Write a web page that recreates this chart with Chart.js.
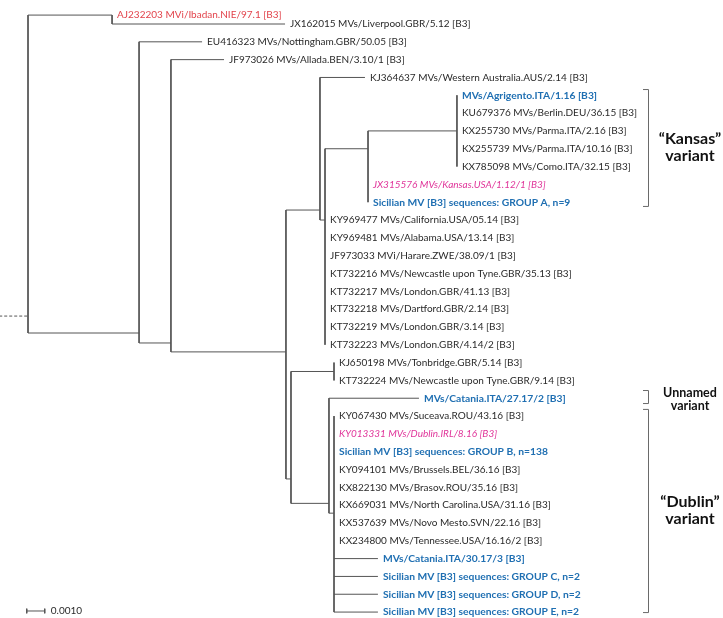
<!DOCTYPE html>
<html>
<head>
<meta charset="utf-8">
<script src="https://cdn.jsdelivr.net/npm/chart.js@4"></script>
<style>
  body { margin: 0; background: #fff; }
  #wrap { width: 723px; height: 618px; }
</style>
</head>
<body>
<div id="wrap"><canvas id="tree"></canvas></div>
<script>
// internal nodes : parent, distance from root (subst./site), row where the branch arrives
const nodeNames  = ['root', 'n1', 'n2', 'n3', 'n4', 'nA', 'nB', 'nC', 'nC2', 'nD', 'nE', 'nF', 'nG'];
const nodeParent = [null, 'root', 'root', 'n2', 'n3', 'n4', 'nA', 'nB', 'nC', 'n4', 'nD', 'nD', 'nF'];
const nodeDist   = [0, 0.00467, 0.00617, 0.00794, 0.01433, 0.01622, 0.01650, 0.01889, 0.02383, 0.01461, 0.01700, 0.01672, 0.01700];
const nodeRow    = [17.39, 0.5, 18.34, 18.9, 19.4, 11.44, 12, 8, 7, 26.53, 20.5, 27.9, 28.45];

// leaves (top to bottom)
const leafNames = [
  'AJ232203 MVi/Ibadan.NIE/97.1 [B3]',
  'JX162015 MVs/Liverpool.GBR/5.12 [B3]',
  'EU416323 MVs/Nottingham.GBR/50.05 [B3]',
  'JF973026 MVs/Allada.BEN/3.10/1 [B3]',
  'KJ364637 MVs/Western Australia.AUS/2.14 [B3]',
  'MVs/Agrigento.ITA/1.16 [B3]',
  'KU679376 MVs/Berlin.DEU/36.15 [B3]',
  'KX255730 MVs/Parma.ITA/2.16 [B3]',
  'KX255739 MVs/Parma.ITA/10.16 [B3]',
  'KX785098 MVs/Como.ITA/32.15 [B3]',
  'JX315576 MVs/Kansas.USA/1.12/1 [B3]',
  'Sicilian MV [B3] sequences: GROUP A, n=9',
  'KY969477 MVs/California.USA/05.14 [B3]',
  'KY969481 MVs/Alabama.USA/13.14 [B3]',
  'JF973033 MVi/Harare.ZWE/38.09/1 [B3]',
  'KT732216 MVs/Newcastle upon Tyne.GBR/35.13 [B3]',
  'KT732217 MVs/London.GBR/41.13 [B3]',
  'KT732218 MVs/Dartford.GBR/2.14 [B3]',
  'KT732219 MVs/London.GBR/3.14 [B3]',
  'KT732223 MVs/London.GBR/4.14/2 [B3]',
  'KJ650198 MVs/Tonbridge.GBR/5.14 [B3]',
  'KT732224 MVs/Newcastle upon Tyne.GBR/9.14 [B3]',
  'MVs/Catania.ITA/27.17/2 [B3]',
  'KY067430 MVs/Suceava.ROU/43.16 [B3]',
  'KY013331 MVs/Dublin.IRL/8.16 [B3]',
  'Sicilian MV [B3] sequences: GROUP B, n=138',
  'KY094101 MVs/Brussels.BEL/36.16 [B3]',
  'KX822130 MVs/Brasov.ROU/35.16 [B3]',
  'KX669031 MVs/North Carolina.USA/31.16 [B3]',
  'KX537639 MVs/Novo Mesto.SVN/22.16 [B3]',
  'KX234800 MVs/Tennessee.USA/16.16/2 [B3]',
  'MVs/Catania.ITA/30.17/3 [B3]',
  'Sicilian MV [B3] sequences: GROUP C, n=2',
  'Sicilian MV [B3] sequences: GROUP D, n=2',
  'Sicilian MV [B3] sequences: GROUP E, n=2'
];
const leafParent = ['n1', 'n1', 'n2', 'n3', 'nA', 'nC2', 'nC2', 'nC2', 'nC2', 'nC2', 'nC', 'nC',
  'nB', 'nB', 'nB', 'nB', 'nB', 'nB', 'nB', 'nB', 'nE', 'nE', 'nF',
  'nG', 'nG', 'nG', 'nG', 'nG', 'nG', 'nG', 'nG', 'nG', 'nG', 'nG', 'nG'];
const leafDist = [0.00467, 0.01428, 0.00967, 0.01089, 0.01872, 0.02383, 0.02383, 0.02383, 0.02383, 0.02383, 0.01889, 0.01889,
  0.01650, 0.01650, 0.01650, 0.01650, 0.01650, 0.01650, 0.01650, 0.01650, 0.01700, 0.01700, 0.02172,
  0.01700, 0.01700, 0.01700, 0.01700, 0.01700, 0.01700, 0.01700, 0.01700, 0.01944, 0.01944, 0.01944, 0.01944];
const leafRow = [0.5, 1, 2, 3, 4, 5, 6, 7, 8, 9, 10, 11, 12, 13, 14, 15, 16, 17, 18, 19, 20, 21, 22,
  23, 24, 25, 26, 27, 28, 29, 30, 31, 32, 33, 34];
// r = outgroup (red), b = Sicilian (blue bold), p = reference strain (pink italic)
const leafKind = ['r', '', '', '', '', 'b', '', '', '', '', 'p', 'b', '', '', '', '', '', '', '', '', '', '', 'b',
  '', 'p', 'b', '', '', '', '', '', 'b', 'b', 'b', 'b'];

// brackets on the right
const variantText = [['\u201CKansas\u201D', 'variant'], ['Unnamed', 'variant'], ['\u201CDublin\u201D', 'variant']];
const variantFrom = [4.65, 21.54, 22.6];
const variantTo   = [11.21, 22.27, 34.0];

const scaleBarLen = 0.0010;

// ---- build the branch segments ----
const lineCol = '#555555';
function distOf(n) { return nodeDist[nodeNames.indexOf(n)]; }

let datasets = [];
function seg(x1, y1, x2, y2, dash) {
  datasets.push({
    data: [{x: x1, y: y1}, {x: x2, y: y2}],
    showLine: true,
    borderColor: lineCol,
    borderWidth: 1,
    borderDash: dash || [],
    pointRadius: 0
  });
}

let childRows = {};
nodeNames.forEach(n => childRows[n] = []);

nodeNames.forEach((n, i) => {
  if (nodeParent[i] === null) return;
  childRows[nodeParent[i]].push(nodeRow[i]);
  seg(distOf(nodeParent[i]), nodeRow[i], nodeDist[i], nodeRow[i]);
});
leafNames.forEach((n, i) => {
  childRows[leafParent[i]].push(leafRow[i]);
  if (leafDist[i] > distOf(leafParent[i])) {
    seg(distOf(leafParent[i]), leafRow[i], leafDist[i], leafRow[i]);
  }
});
nodeNames.forEach((n, i) => {
  const r = childRows[n];
  seg(nodeDist[i], Math.min(...r), nodeDist[i], Math.max(...r));
});
// root stub
seg(-0.00160, nodeRow[0], 0, nodeRow[0], [3, 2]);
// scale bar
const sbX = -0.00007, sbRow = 33.94;
seg(sbX, sbRow, sbX + scaleBarLen, sbRow);
seg(sbX, sbRow - 0.13, sbX, sbRow + 0.13);
seg(sbX + scaleBarLen, sbRow - 0.13, sbX + scaleBarLen, sbRow + 0.13);

const FONT = 'Lato, "Noto Sans", sans-serif';

const labelPlugin = {
  id: 'treeLabels',
  afterDatasetsDraw(chart) {
    const ctx = chart.ctx;
    const xs = chart.scales.x, ys = chart.scales.y;
    ctx.save();
    ctx.textBaseline = 'middle';
    ctx.textAlign = 'left';
    leafNames.forEach((name, i) => {
      const k = leafKind[i];
      let font = '10px ' + FONT, col = '#2a2a2a';
      if (k === 'r') col = '#e2434b';
      if (k === 'b') { font = 'bold 10.3px ' + FONT; col = '#1f6fb2'; }
      if (k === 'p') { font = 'italic 10px ' + FONT; col = '#e0359a'; }
      ctx.font = font;
      ctx.fillStyle = col;
      ctx.fillText(name, xs.getPixelForValue(leafDist[i]) + 5, ys.getPixelForValue(leafRow[i]));
    });
    // scale bar label
    ctx.font = '10px ' + FONT;
    ctx.fillStyle = '#2a2a2a';
    ctx.fillText(scaleBarLen.toFixed(4), xs.getPixelForValue(sbX + scaleBarLen) + 6, ys.getPixelForValue(sbRow));

    // variant brackets
    const bx = 648;
    variantText.forEach((t, i) => {
      const y1 = ys.getPixelForValue(variantFrom[i]);
      const y2 = ys.getPixelForValue(variantTo[i]);
      ctx.strokeStyle = '#6a6a6a';
      ctx.lineWidth = 1;
      ctx.beginPath();
      ctx.moveTo(bx - 5, y1 + 0.5);
      ctx.lineTo(bx + 0.5, y1 + 0.5);
      ctx.lineTo(bx + 0.5, y2 + 0.5);
      ctx.lineTo(bx - 5, y2 + 0.5);
      ctx.stroke();
      const small = i === 1;
      const fs = small ? 12.5 : 16;
      const gap = small ? 13 : 17;
      const mid = (y1 + y2) / 2 + (small ? 3 : 0);
      ctx.font = 'bold ' + fs + 'px ' + FONT;
      ctx.fillStyle = '#111';
      ctx.textAlign = 'center';
      ctx.fillText(t[0], 690, mid - gap / 2);
      ctx.fillText(t[1], 690, mid + gap / 2);
      ctx.textAlign = 'left';
    });
    ctx.restore();
  }
};

new Chart(document.getElementById('tree'), {
  type: 'scatter',
  data: { datasets: datasets },
  options: {
    responsive: true,
    maintainAspectRatio: false,
    animation: false,
    layout: { padding: 0 },
    scales: {
      x: { type: 'linear', display: false, min: -0.001556, max: 0.038611 },
      y: { type: 'linear', display: false, reverse: true, min: -0.3468, max: 34.333 }
    },
    plugins: {
      legend: { display: false },
      tooltip: { enabled: false }
    }
  },
  plugins: [labelPlugin]
});
</script>
</body>
</html>
